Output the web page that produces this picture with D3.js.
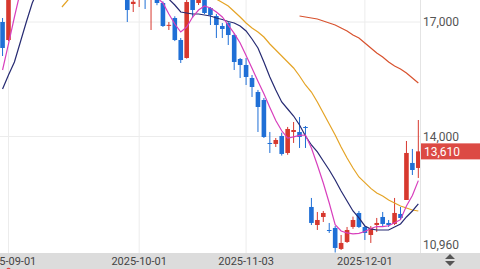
<!DOCTYPE html>
<html><head><meta charset="utf-8">
<script src="https://cdn.jsdelivr.net/npm/d3@7"></script>
<style>html,body{margin:0;padding:0;background:#fff;overflow:hidden}svg{display:block}text{font-family:Roboto,"Noto Sans",sans-serif}</style>
</head><body><svg id="c" width="480" height="269"></svg>
<script>
const dates = ["2025-08-29","2025-09-01","2025-09-02","2025-09-03","2025-09-04","2025-09-05","2025-09-08","2025-09-09","2025-09-10","2025-09-11","2025-09-12","2025-09-15","2025-09-16","2025-09-17","2025-09-18","2025-09-19","2025-09-22","2025-09-23","2025-09-24","2025-09-25","2025-09-26","2025-09-29","2025-09-30","2025-10-01","2025-10-02","2025-10-10","2025-10-13","2025-10-14","2025-10-15","2025-10-16","2025-10-17","2025-10-20","2025-10-21","2025-10-22","2025-10-23","2025-10-24","2025-10-27","2025-10-28","2025-10-29","2025-10-30","2025-10-31","2025-11-03","2025-11-04","2025-11-05","2025-11-06","2025-11-07","2025-11-10","2025-11-11","2025-11-12","2025-11-13","2025-11-14","2025-11-17","2025-11-18","2025-11-19","2025-11-20","2025-11-21","2025-11-24","2025-11-25","2025-11-26","2025-11-27","2025-11-28","2025-12-01","2025-12-02","2025-12-03","2025-12-04","2025-12-05","2025-12-08","2025-12-09","2025-12-10","2025-12-11","2025-12-12"];
const open  = [17000,16528,17750,18300,18800,18650,18350,18700,19200,18850,18450,18150,18400,18700,18300,18050,18250,18450,18100,17950,17850,17850,17472,17650,17900,17700,17800,17498,16900,17105,16528,16057,17620,17498,17650,17367,17157,16895,16974,16659,16031,15873,15533,15166,14956,13830,13804,14013,13568,14118,14118,14249,12153,11681,11891,11550,11603,11053,11236,11629,11996,11629,11419,11681,11891,11734,11708,11970,12336,13306,13175];
const high  = [17105,17900,18450,18950,19300,18900,18800,19400,19500,19000,18700,18600,18900,18850,18500,18400,18600,18550,18300,18200,18100,18050,17680,17950,18000,18050,17900,17540,17000,17150,16581,17600,17700,17750,17750,17393,17210,16974,17000,16700,16057,16057,15611,15220,15009,14118,13960,14100,14250,14380,14511,14275,12389,12022,12048,11734,11655,11419,11629,11900,12048,11655,11655,11865,12022,11812,12389,12153,13882,13673,14432];
const low   = [16109,16500,17680,18150,18500,18200,18100,18600,18700,18300,18000,17950,18250,18200,17900,17850,18050,18000,17800,17700,17650,17000,17262,17393,17341,16790,17440,16870,16790,16500,15926,16040,17105,17445,17210,16921,16581,16581,16397,15742,15533,15349,15035,14118,13961,13568,13725,13500,13520,13830,13699,13699,11681,11550,11760,11472,10960,11026,11210,11580,11603,11288,11210,11498,11629,11629,11681,11812,12336,12991,12913];
const close = [16319,17750,18300,18800,18650,18350,18700,19200,18850,18450,18150,18400,18700,18300,18050,18250,18450,18100,17950,17850,18000,17314,17530,17850,17700,17900,17498,16895,16925,16528,16004,17524,17314,17620,17236,17183,16921,16817,16659,15952,15873,15559,15297,14773,13987,13804,13908,13542,14197,14170,13987,14223,11734,11812,11996,11524,11079,11210,11550,11812,11629,11472,11603,11734,11708,11681,11996,11865,13568,13122,13610];
const ma5  = [15742,16424,17131,17800,18250,18500,18600,18700,18800,18750,18600,18450,18400,18400,18350,18300,18250,18200,18150,18100,18000,17850,17760,17720,17690,17660,17640,17498,17210,16948,16738,16869,17131,17314,17419,17367,17262,17131,16920,16700,16450,16120,15790,15450,15120,14760,14420,14150,13960,13990,14030,14039,13699,13253,12782,12258,11690,11524,11472,11450,11460,11510,11590,11640,11640,11660,11740,11820,12180,12455,12843];
const ma10 = [15245,15611,15952,16476,17000,17498,17850,18100,18300,18450,18550,18600,18600,18550,18500,18400,18350,18300,18250,18200,18150,18050,17950,17900,17850,17800,17750,17700,17600,17445,17262,17236,17210,17210,17183,17157,17105,17065,17013,16974,16895,16764,16555,16319,15952,15559,15218,14904,14720,14537,14301,14013,13777,13594,13358,13122,12860,12572,12310,12048,11865,11655,11577,11550,11550,11550,11629,11708,11891,12048,12232];
const ma20 = [null,null,null,null,null,null,null,null,null,null,17393,17576,17750,17900,18050,18150,18250,18300,18350,18400,18420,18400,18380,18350,18300,18250,18200,18150,18100,18030,17960,17900,17850,17800,17750,17690,17600,17511,17419,17275,17131,16974,16843,16738,16607,16424,16266,16109,15952,15795,15585,15349,15166,14904,14616,14328,14039,13725,13437,13175,12939,12790,12640,12520,12441,12336,12258,12179,12127,12074,12048];
const ma60 = [null,null,null,null,null,null,null,null,null,null,null,null,null,null,null,null,null,null,null,null,null,null,null,null,null,null,null,null,null,null,null,null,null,null,null,null,null,null,null,null,null,null,null,null,null,null,null,null,null,null,17157,17131,17105,17079,17026,16974,16921,16843,16764,16659,16581,16450,16319,16188,16083,15952,15847,15769,15663,15533,15402];
const xTickDates = ["2025-09-01","2025-10-01","2025-11-03","2025-12-01"];
const yTickValues = [17000, 14000];
const lowLabel = 10960;
const lastPrice = 13610;

const W = 480, H = 269, plotR = 420, plotB = 253;
const svg = d3.select("#c");
const x = d3.scaleLinear().domain([-0.43, 70.45]).range([0, 421]);
const y = d3.scaleLinear().domain([10960, 17000]).range([252.5, 22]);
const fmt = d3.format(",");
const UP = "#d7382e", DOWN = "#1f6fd6";

svg.append("defs").append("clipPath").attr("id","clip")
  .append("rect").attr("x",0).attr("y",0).attr("width",plotR).attr("height",plotB);

// grid
const grid = svg.append("g");
xTickDates.forEach(d => {
  const k = dates.indexOf(d);
  grid.append("line").attr("x1",x(k)).attr("x2",x(k)).attr("y1",0).attr("y2",plotB)
    .attr("stroke","#ececec").attr("stroke-width",1);
});
yTickValues.forEach(v => {
  grid.append("line").attr("x1",0).attr("x2",plotR).attr("y1",y(v)).attr("y2",y(v))
    .attr("stroke","#ececec").attr("stroke-width",1);
});
svg.append("line").attr("x1",plotR+0.5).attr("x2",plotR+0.5).attr("y1",0).attr("y2",plotB)
  .attr("stroke","#e4e4e4");

const plot = svg.append("g").attr("clip-path","url(#clip)");
const idx = d3.range(dates.length);
const bw = 4.6;
const cg = plot.selectAll("g.c").data(idx).join("g")
  .attr("class","c");
cg.append("line")
  .attr("x1",k=>x(k)).attr("x2",k=>x(k))
  .attr("y1",k=>y(high[k])).attr("y2",k=>y(low[k]))
  .attr("stroke",k=>close[k]>=open[k]?UP:DOWN).attr("stroke-width",1);
cg.append("rect")
  .attr("x",k=>x(k)-bw/2).attr("width",bw)
  .attr("y",k=>y(Math.max(open[k],close[k])))
  .attr("height",k=>Math.max(1,Math.abs(y(open[k])-y(close[k]))))
  .attr("fill",k=>close[k]>=open[k]?UP:DOWN);

const line = d3.line().defined(d=>d!=null).x((d,k)=>x(k)).y(d=>y(d));
[[ma60,"#d8522e"],[ma20,"#e5a426"],[ma10,"#262a72"],[ma5,"#d83fbd"]].forEach(([arr,col])=>{
  plot.append("path").datum(arr).attr("d",line).attr("fill","none")
    .attr("stroke",col).attr("stroke-width",1.2);
});

// y labels
yTickValues.forEach(v => {
  svg.append("text").attr("x",423).attr("y",y(v)).attr("dy","0.35em")
    .attr("font-size",12).attr("fill","#555").text(fmt(v));
});
svg.append("text").attr("x",423).attr("y",y(lowLabel)-3.5)
  .attr("font-size",12).attr("fill","#555").text(fmt(lowLabel));

// last price
svg.append("rect").attr("x",421).attr("y",y(lastPrice)-8).attr("width",59).attr("height",16)
  .attr("fill","#dc4a44");
svg.append("text").attr("x",424).attr("y",y(lastPrice)).attr("dy","0.36em")
  .attr("font-size",12).attr("fill","#fff").text(fmt(lastPrice));

// bottom band
svg.append("rect").attr("x",0).attr("y",plotB).attr("width",W).attr("height",H-plotB).attr("fill","#dcdcdc");
xTickDates.forEach(d => {
  const k = dates.indexOf(d);
  svg.append("text").attr("x",x(k)).attr("y",265).attr("text-anchor","middle")
    .attr("font-size",11).attr("fill","#444").text(d);
});
svg.append("path").attr("d","M445,259L455,259L450,254Z M445,261L455,261L450,266Z").attr("fill","#555");
svg.append("circle").attr("cx",x(1)).attr("cy",270).attr("r",2.2).attr("fill","#e04848");
</script>
</body></html>
